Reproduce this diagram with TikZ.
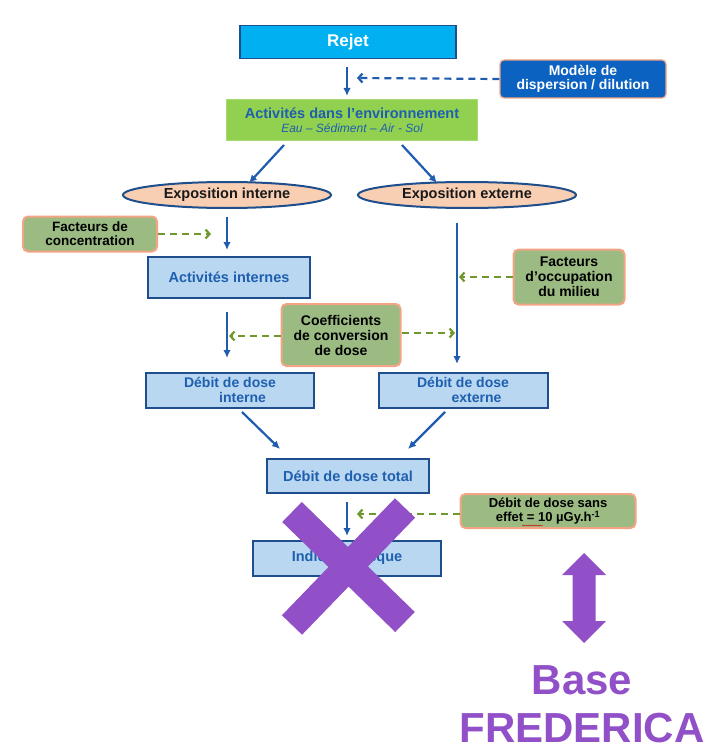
\documentclass[tikz,border=0pt]{standalone}
\usepackage{fontspec}
\setmainfont{Liberation Sans}
\usetikzlibrary{arrows.meta,shapes.geometric,decorations.pathmorphing}
\definecolor{cyanfill}{HTML}{00B0F0}
\definecolor{dblue}{HTML}{1F4E8C}
\definecolor{modfill}{HTML}{0B62C0}
\definecolor{salmon}{HTML}{F2A485}
\definecolor{envfill}{HTML}{92D050}
\definecolor{envline}{HTML}{A8DA78}
\definecolor{tblue}{HTML}{1F5FAF}
\definecolor{peach}{HTML}{F9CFB4}
\definecolor{ggreen}{HTML}{9BBB82}
\definecolor{lblue}{HTML}{B9D7F1}
\definecolor{ablue}{HTML}{1F5CB0}
\definecolor{dgreen}{HTML}{71982E}
\definecolor{purp}{HTML}{9150C8}
\begin{document}
\begin{tikzpicture}[x=1pt,y=-1pt,
  every node/.style={inner sep=0pt, align=center},
  fs/.style={font=\bfseries\fontsize{#1}{15}\selectfont},
  bluebox/.style={draw=dblue, line width=2pt, fill=lblue, text=tblue, fs=14},
  greenbox/.style={draw=salmon, line width=2pt, fill=ggreen, rounded corners=5pt, text=black, fs=13.5},
  expell/.style={ellipse, draw=dblue, line width=2pt, fill=peach, text=black!90, fs=14.5},
  arr/.style={draw=ablue, line width=2.2pt, -{Latex[length=8pt,width=7.5pt]}},
  garr/.style={draw=dgreen, line width=2.2pt, dash pattern=on 7pt off 5pt, -{Straight Barb[length=4pt,width=9pt]}},
  barr/.style={draw=ablue, line width=2.2pt, dash pattern=on 7pt off 5pt, -{Straight Barb[length=4pt,width=9pt]}},
]
\useasboundingbox (0,0) rectangle (711,749);

% nodes
\node[draw=dblue, line width=1.2pt, fill=cyanfill, text=white, fs=17, minimum width=216, minimum height=33] (rejet) at (348,42) {Rejet};
\node[draw=salmon, line width=1.2pt, fill=modfill, text=white, rounded corners=4pt, fs=14, minimum width=166, minimum height=38] (modele) at (583,79) {Modèle de\\[-1pt]dispersion / dilution};
\node[draw=envline, line width=1pt, fill=envfill, text=tblue, minimum width=251, minimum height=40] (env) at (352,120)
  {{\bfseries\fontsize{14.5}{15}\selectfont Activités dans l’environnement}\\[2pt]{\fontsize{12}{13}\selectfont\itshape Eau – Sédiment – Air - Sol}};
\node[expell, minimum width=208, minimum height=26] (expint) at (227,195) {Exposition interne};
\node[expell, minimum width=218, minimum height=26] (expext) at (467,195) {Exposition externe};
\node[greenbox, minimum width=134, minimum height=35] (fconc) at (90,234) {Facteurs de\\[-1pt]concentration};
\node[bluebox, fs=14.5, minimum width=162, minimum height=41] (actint) at (229,277) {Activités internes};
\node[greenbox, fs=14, minimum width=111, minimum height=55] (focc) at (569,277) {Facteurs\\d’occupation\\du milieu};
\node[greenbox, fs=14, minimum width=119, minimum height=62] (coeff) at (341,335) {Coefficients\\de conversion\\de dose};
\node[bluebox, minimum width=168, minimum height=35] (ddi) at (230,390) {Débit de dose\\\hspace*{25pt}interne};
\node[bluebox, minimum width=169, minimum height=35] (dde) at (463,390) {Débit de dose\\\hspace*{27pt}externe};
\node[bluebox, fs=14.5, minimum width=162, minimum height=34] (ddt) at (348,476) {Débit de dose total};
\node[greenbox, fs=13, minimum width=175, minimum height=34] (sans) at (548,511) {Débit de dose sans\\[-1pt]effet = 10 µGy.h\textsuperscript{-1}};
\node[bluebox, fs=14.5, minimum width=188, minimum height=35] (indice) at (347,558) {Indice de risque};

% coordinates for arrow ends
\coordinate (a1s) at (347,67);  \coordinate (a1e) at (347,96);
\coordinate (mtip) at (357,78);
\coordinate (b1s) at (284,145); \coordinate (b1e) at (249,183);
\coordinate (b2s) at (402,145); \coordinate (b2e) at (437,183);
\coordinate (c1s) at (227,217); \coordinate (c1e) at (227,250);
\coordinate (ftip) at (211,234);
\coordinate (e1s) at (457,223); \coordinate (e1e) at (457,364);
\coordinate (otip) at (459,277);
\coordinate (c2s) at (227,312); \coordinate (c2e) at (227,358);
\coordinate (ltip) at (229,336);
\coordinate (rtip) at (455,333);
\coordinate (d1s) at (242,412); \coordinate (d1e) at (280,449);
\coordinate (d2s) at (445,412); \coordinate (d2e) at (408,449);
\coordinate (t1s) at (347,502); \coordinate (t1e) at (347,536);
\coordinate (stip) at (357,514);

% connectors
\draw[arr] (a1s) -- (a1e);
\draw[barr] (modele.west) -- (mtip);
\draw[arr] (b1s) -- (b1e);
\draw[arr] (b2s) -- (b2e);
\draw[arr] (c1s) -- (c1e);
\draw[garr] (fconc.east) -- (ftip);
\draw[arr] (e1s) -- (e1e);
\draw[garr] (focc.west) -- (otip);
\draw[arr] (c2s) -- (c2e);
\draw[garr] (coeff.west |- ltip) -- (ltip);
\draw[garr] (coeff.east |- rtip) -- (rtip);
\draw[arr] (d1s) -- (d1e);
\draw[arr] (d2s) -- (d2e);
\draw[arr] (t1s) -- (t1e);
\draw[garr] (sans.west |- stip) -- (stip);

% spell-check wavy underline
\draw[red!85!black, line width=0.4pt, decorate, decoration={snake, amplitude=0.5pt, segment length=2.2pt}] (522,525.5) -- (543,525.5);

% purple cross
\draw[purp, line width=28pt] (292,512) -- (405,622);
\draw[purp, line width=28pt] (405,508) -- (292,625);

% double arrow
\fill[purp] (584,553) -- (606,575) -- (595.5,575) -- (595.5,621) -- (606,621) -- (584,643)
  -- (562,621) -- (572.5,621) -- (572.5,575) -- (562,575) -- cycle;

\node[anchor=base, text=purp, font=\bfseries\fontsize{42}{42}\selectfont] (base) at (582,694) {Base};
\node[anchor=base, text=purp, font=\bfseries\fontsize{42}{42}\selectfont] (fred) at (582,742) {FREDERICA};
\end{tikzpicture}
\end{document}
